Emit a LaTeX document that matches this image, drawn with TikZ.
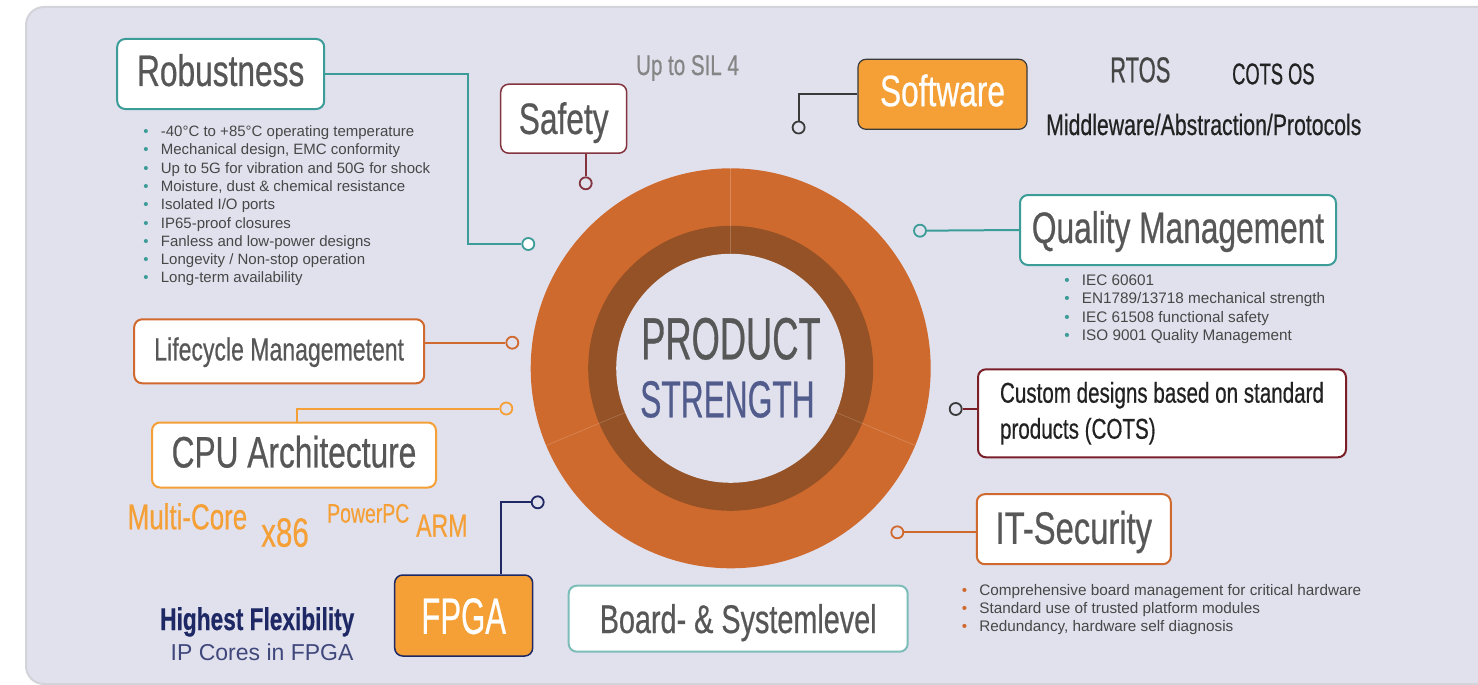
\documentclass[tikz,border=0pt]{standalone}
\usepackage{fontspec}
\setmainfont{Liberation Sans}
\newfontfamily\headfont[FakeStretch=0.72, FakeBold=0.5]{Liberation Sans}
\newfontfamily\capsfont[FakeStretch=0.61, FakeBold=0.5]{Liberation Sans}
\usetikzlibrary{positioning}

\definecolor{panelbg}{HTML}{E1E1EE}
\definecolor{panelrim}{HTML}{D3D3DA}
\definecolor{headgray}{HTML}{575757}
\definecolor{bodygray}{HTML}{474747}
\definecolor{silgray}{HTML}{858585}
\definecolor{nearblack}{HTML}{222222}
\definecolor{wiregray}{HTML}{3A3A3A}
\definecolor{teal}{HTML}{3C9C98}
\definecolor{lightteal}{HTML}{7DBDB9}
\definecolor{safetyred}{HTML}{83343F}
\definecolor{customred}{HTML}{7A1E28}
\definecolor{darkorange}{HTML}{D0692E}
\definecolor{lightorange}{HTML}{F4A036}
\definecolor{ringorange}{HTML}{CF6A2F}
\definecolor{ringbrown}{HTML}{955226}
\definecolor{navy}{HTML}{1E2864}
\definecolor{slate}{HTML}{515C8C}

\newcommand{\dotitem}[2]{\makebox[17.5pt][l]{\textcolor{#1}{\textbullet}}#2}

\begin{document}
\begin{tikzpicture}[x=1pt,y=-1pt,
		boxbase/.style={
			draw,
			fill=white,
			rounded corners=8pt,
			line width=2pt,
			inner sep=0pt,
			text=headgray,
		},
		headbox/.style={boxbase, font=\headfont\fontsize{44}{50}\selectfont},
		capline/.style 2 args={text height=#1pt, text depth=#2pt},
		dot/.style={circle, draw, line width=1.8pt, fill=panelbg, inner sep=0pt, minimum size=12pt},
		wire/.style={line width=2pt},
		note/.style={anchor=base west, inner sep=0pt},
		bullets/.style={note, align=left, text=bodygray, font=\fontsize{15.3}{18.3}\selectfont}]
	\clip (0,0) rectangle (1478,685);
	\draw[panelrim, fill=panelbg, line width=2pt, rounded corners=18pt] (26,7) rectangle (1540,684);
	
	% ring in the middle
	\coordinate (hub) at (730.7,368.3);
	\fill[ringorange] (hub) circle[radius=200];
	\fill[ringbrown] (hub) circle[radius=142.5];
	\fill[panelbg] (hub) circle[radius=114.5];
	\draw[white, opacity=0.2, line width=0.6pt] (hub) ++(-90:114.5) -- ++(-90:85.5);
	\draw[white, opacity=0.2, line width=0.6pt] (hub) ++(22.7:114.5) -- ++(22.7:85.5);
	\draw[white, opacity=0.2, line width=0.6pt] (hub) ++(157.3:114.5) -- ++(157.3:85.5);
	\node[note, text=headgray, font=\capsfont\fontsize{59.5}{60}\selectfont] (product) at (641,359.3) {PRODUCT};
	\node[note, text=slate, font=\capsfont\fontsize{52}{52}\selectfont] (strength) at (640,417.3) {STRENGTH};
	
	% boxes
	\node[headbox, draw=teal, capline={33}{9.1}, minimum width=207pt, minimum height=70pt] (robust) at (220.7,74) {Robustness};
	\node[headbox, draw=safetyred, line width=1.5pt, capline={34}{3.5}, minimum width=126pt, minimum height=69pt] (safety) at (563.7,118.7) {Safety};
	\node[headbox, fill=lightorange, draw=wiregray, line width=1.2pt, text=white, capline={33}{9.3},
		minimum width=169pt, minimum height=70pt] (software) at (942.5,94.3) {Software};
	\node[headbox, draw=teal, capline={33}{7.1}, minimum width=316pt, minimum height=70pt] (quality) at (1178,230) {Quality Management};
	\node[boxbase, draw=customred, text=nearblack, font=\headfont\fontsize{28.6}{36}\selectfont,
		align=left, minimum width=368pt, minimum height=88pt] (custom) at (1162,413.3)
		{Custom designs based on standard\\products (COTS)};
	\node[headbox, draw=darkorange, font=\headfont\fontsize{32}{40}\selectfont, capline={24}{5.7},
		minimum width=290pt, minimum height=64pt] (lifecycle) at (279.2,351.3) {Lifecycle Managemetent};
	\node[headbox, draw=lightorange, capline={33}{8.1}, minimum width=284pt, minimum height=65pt] (cpu) at (294,455) {CPU Architecture};
	\node[headbox, fill=lightorange, draw=navy, line width=1.5pt, text=white, font=\capsfont\fontsize{51}{56}\selectfont,
		capline={40.8}{4.3}, minimum width=138pt, minimum height=81pt] (fpga) at (463.7,615.5) {FPGA};
	\node[headbox, draw=lightteal, font=\headfont\fontsize{40}{46}\selectfont, capline={32}{3.4},
		minimum width=339pt, minimum height=66pt] (board) at (738.2,618.7) {Board- \& Systemlevel};
	\node[headbox, draw=darkorange, font=\headfont\fontsize{45.5}{50}\selectfont, capline={34}{4.8},
		minimum width=194pt, minimum height=70pt] (itsec) at (1073.8,529.2) {IT-Security};
	
	% dots
	\node[dot, draw=teal, fill=white] (robustdot) at (528.3,244) {};
	\node[dot, draw=safetyred] (safetydot) at (585.7,183.3) {};
	\node[dot, draw=wiregray] (softwaredot) at (798.6,127.5) {};
	\node[dot, draw=teal] (qualitydot) at (920,230.7) {};
	\node[dot, draw=darkorange] (lifecycledot) at (512.3,342.7) {};
	\node[dot, draw=lightorange] (cpudot) at (506.3,408.5) {};
	\node[dot, draw=wiregray] (customdot) at (955.7,409) {};
	\node[dot, draw=navy] (fpgadot) at (537.7,502.3) {};
	\node[dot, draw=darkorange] (itsecdot) at (897.3,532.3) {};
	
	% connectors
	\draw[wire, teal] (robust.east) -- ++(142.6,0) |- (robustdot);
	\draw[wire, safetyred, line width=1.6pt] (safetydot) -- (safetydot |- safety.south);
	\draw[wire, wiregray] (software.west) -| (softwaredot);
	\draw[wire, teal] (qualitydot) -- (quality.west);
	\draw[wire, customred] (customdot) -- (customdot -| custom.west);
	\draw[wire, darkorange] (lifecycledot) -- (lifecycledot -| lifecycle.east);
	\draw[wire, lightorange] ([xshift=3pt]cpu.north) |- (cpudot);
	\draw[wire, navy] (fpgadot) -| ([xshift=37pt]fpga.north);
	\draw[wire, darkorange] (itsecdot) -- (itsecdot -| itsec.west);
	
	% free texts
	\node[note, text=silgray, font=\headfont\fontsize{28.5}{30}\selectfont] (sil) at (636,75) {Up to SIL 4};
	\node[note, text=headgray!80!black, font=\capsfont\fontsize{36}{40}\selectfont] (rtos) at (1110,82.3) {RTOS};
	\node[note, text=nearblack, font=\capsfont\fontsize{30}{30}\selectfont] (cotsos) at (1232,84.3) {COTS OS};
	\node[note, text=nearblack, font=\headfont\fontsize{29.5}{30}\selectfont] (middleware) at (1046,135) {Middleware/Abstraction/Protocols};
	\node[note, text=lightorange, font=\headfont\fontsize{36}{36}\selectfont] (multicore) at (127.5,529.3) {Multi-Core};
	\node[note, text=lightorange, font=\headfont\fontsize{41}{44}\selectfont] (xeightysix) at (261,546.7) {x86};
	\node[note, text=lightorange, font=\headfont\fontsize{27}{30}\selectfont] (powerpc) at (327,522.7) {PowerPC};
	\node[note, text=lightorange, font=\headfont\fontsize{32}{36}\selectfont] (arm) at (416,536.7) {ARM};
	\node[note, text=navy, font=\headfont\bfseries\fontsize{31.5}{34}\selectfont] (flex) at (160,630) {Highest Flexibility};
	\node[note, text=navy!85!white, font=\fontsize{23}{26}\selectfont] (ipcores) at (170.5,660) {IP Cores in FPGA};
	
	% bullet lists (base = last line)
	\node[bullets, font=\fontsize{15}{18.3}\selectfont] (robustlist) at (143.2,282.9) {\dotitem{teal}{-40°C to +85°C operating temperature}\\
		\dotitem{teal}{Mechanical design, EMC conformity}\\
		\dotitem{teal}{Up to 5G for vibration and 50G for shock}\\
		\dotitem{teal}{Moisture, dust \& chemical resistance}\\
		\dotitem{teal}{Isolated I/O ports}\\
		\dotitem{teal}{IP65-proof closures}\\
		\dotitem{teal}{Fanless and low-power designs}\\
		\dotitem{teal}{Longevity / Non-stop operation}\\
		\dotitem{teal}{Long-term availability}};
	\node[bullets] (qualitylist) at (1064.2,340.5) {\dotitem{teal}{IEC 60601}\\
		\dotitem{teal}{EN1789/13718 mechanical strength}\\
		\dotitem{teal}{IEC 61508 functional safety}\\
		\dotitem{teal}{ISO 9001 Quality Management}};
	\node[bullets] (itseclist) at (961.7,631.6) {\dotitem{darkorange}{Comprehensive board management for critical hardware}\\
		\dotitem{darkorange}{Standard use of trusted platform modules}\\
		\dotitem{darkorange}{Redundancy, hardware self diagnosis}};
\end{tikzpicture}
\end{document}
